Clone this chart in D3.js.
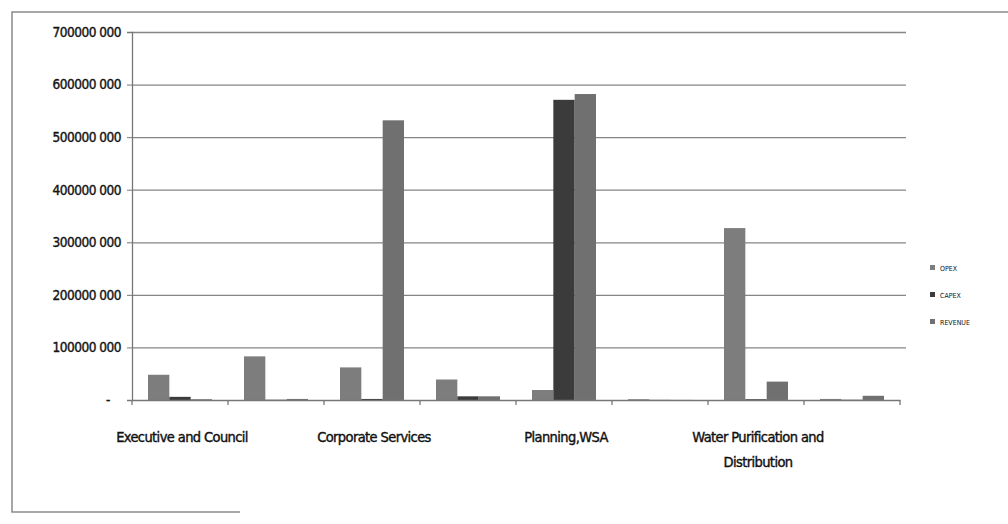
<!DOCTYPE html>
<html>
<head>
<meta charset="utf-8">
<script src="https://cdn.jsdelivr.net/npm/d3@7"></script>
<style>
  body { margin: 0; background: #fff; }
  text { font-family: "DejaVu Sans Condensed", sans-serif; fill: #111; }
</style>
</head>
<body>
<svg id="chart" width="1008" height="524"></svg>
<script>
// 8 departments, only every second label is printed on the axis
let categories = ["Executive and Council", "", "Corporate Services", "", "Planning,WSA", "", "Water Purification and Distribution", ""]
let series = ["OPEX", "CAPEX", "REVENUE"]

// values (rand)
let opex    = [48e6, 83e6, 62e6, 39e6, 19e6, 1.5e6, 327e6, 2e6]
let capex   = [6e6, 0.5e6, 2e6, 7e6, 571e6, 0.3e6, 1.5e6, 0.5e6]
let revenue = [1.5e6, 2e6, 532e6, 7e6, 582e6, 0.2e6, 35e6, 8e6]

let yTicks = [0, 100e6, 200e6, 300e6, 400e6, 500e6, 600e6, 700e6]

let colors = {OPEX: "#7d7d7d", CAPEX: "#3b3b3b", REVENUE: "#707070"}

let svg = d3.select("#chart")

// outer frame of the scanned chart
svg.append("path")
  .attr("d", "M1008,12 H12 V512 H240")
  .attr("fill", "none")
  .attr("stroke", "#8a8a8a")
  .attr("stroke-width", 1.5)

let plotL = 132, plotR = 900, plotT = 32, plotB = 400

let x0 = d3.scaleBand()
  .domain(d3.range(categories.length))
  .range([plotL, plotR])
  .padding(0)

let bw = x0.bandwidth()
let x1 = d3.scaleBand()
  .domain(series)
  .range([bw / 6, bw * 5 / 6])
  .padding(0)

let y = d3.scaleLinear()
  .domain([0, 700e6])
  .range([plotB, plotT])

// "700000 000" style, zero shown as a dash
let fmt = v => v === 0 ? "-" : Math.floor(v / 1000) + " " + String(v % 1000).padStart(3, "0")

// gridlines
svg.append("g")
  .selectAll("line")
  .data(yTicks.slice(1))
  .enter()
  .append("line")
  .attr("x1", plotL)
  .attr("x2", plotR + 6)
  .attr("y1", d => y(d) + 0.5)
  .attr("y2", d => y(d) + 0.5)
  .attr("stroke", "#858585")
  .attr("stroke-width", 1.3)

// y axis
let yAxis = svg.append("g")
  .attr("transform", `translate(${plotL},0)`)
  .call(d3.axisLeft(y).tickValues(yTicks).tickFormat(fmt).tickSize(5).tickPadding(11))
yAxis.attr("font-family", null).attr("font-size", null)
yAxis.select(".domain").attr("stroke", "#777").attr("stroke-width", 1.3)
yAxis.selectAll(".tick line").attr("stroke", "#777")
yAxis.selectAll("text")
  .attr("font-size", 13.5)
  .attr("letter-spacing", -0.5)
  .attr("fill", "#1a1a1a")
  .attr("stroke", "#1a1a1a")
  .attr("stroke-width", 0.4)
  .attr("x", d => d === 0 ? -22 : -11)

// bars
let rows = categories.map((c, i) => ({i: i, vals: [opex[i], capex[i], revenue[i]]}))

svg.append("g")
  .selectAll("g")
  .data(rows)
  .enter()
  .append("g")
  .attr("transform", d => `translate(${x0(d.i)},0)`)
  .selectAll("rect")
  .data(d => d.vals.map((v, k) => ({s: series[k], v: v})))
  .enter()
  .append("rect")
  .attr("x", d => x1(d.s))
  .attr("width", x1.bandwidth())
  .attr("y", d => y(d.v))
  .attr("height", d => y(0) - y(d.v))
  .attr("fill", d => colors[d.s])

// x axis
let xAxis = svg.append("g")
  .attr("transform", `translate(0,${plotB})`)
  .call(d3.axisBottom(x0).tickFormat("").tickSize(0))
xAxis.select(".domain").attr("stroke", "#777").attr("stroke-width", 1.3)

// category boundary ticks
svg.append("g")
  .selectAll("line")
  .data(d3.range(categories.length + 1))
  .enter()
  .append("line")
  .attr("x1", i => plotL + i * bw)
  .attr("x2", i => plotL + i * bw)
  .attr("y1", plotB)
  .attr("y2", plotB + 5)
  .attr("stroke", "#777")
  .attr("stroke-width", 1.3)

// category labels, wrapped like Excel did
let wrap = name => name === "Water Purification and Distribution" ? ["Water Purification and", "Distribution"] : [name]

svg.append("g")
  .selectAll("text")
  .data(rows.filter(d => categories[d.i] !== ""))
  .enter()
  .append("text")
  .attr("text-anchor", "middle")
  .attr("font-size", 14.5)
  .attr("letter-spacing", -0.6)
  .attr("stroke", "#111")
  .attr("stroke-width", 0.4)
  .attr("x", d => x0(d.i) + bw / 2 + 2)
  .attr("y", plotB + 42)
  .selectAll("tspan")
  .data(d => wrap(categories[d.i]).map(t => ({t: t, x: x0(d.i) + bw / 2 + 2})))
  .enter()
  .append("tspan")
  .attr("x", d => d.x)
  .attr("dy", (d, k) => k === 0 ? 0 : 25)
  .text(d => d.t)

// legend
let legend = svg.append("g")
  .selectAll("g")
  .data(series)
  .enter()
  .append("g")
  .attr("transform", (d, k) => `translate(930,${268 + k * 27})`)

legend.append("rect")
  .attr("x", 0)
  .attr("y", -3)
  .attr("width", 5)
  .attr("height", 5)
  .attr("fill", d => colors[d])

legend.append("text")
  .attr("x", 10)
  .attr("y", 2.5)
  .attr("font-size", 7)
  .attr("fill", "#555")
  .text(d => d)
</script>
</body>
</html>
